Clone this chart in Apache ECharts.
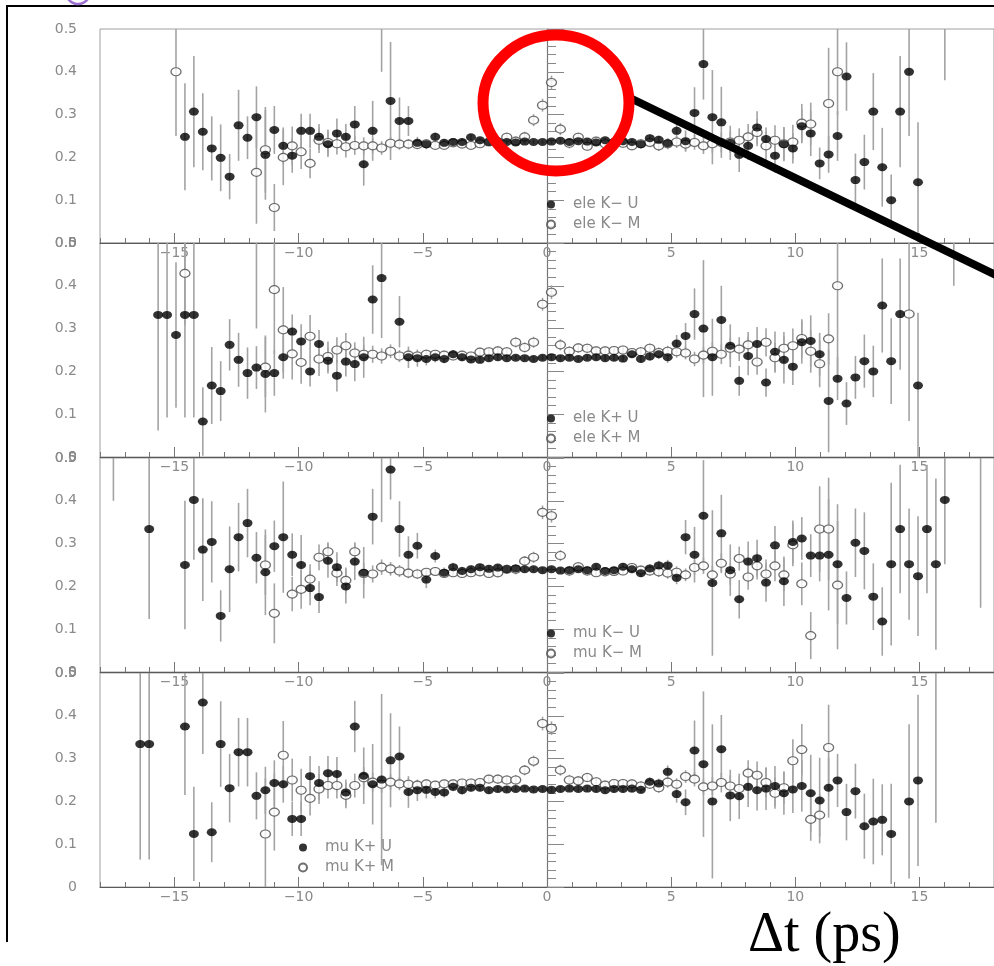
<!DOCTYPE html>
<html><head><meta charset="utf-8">
<script src="https://cdn.jsdelivr.net/npm/echarts@6/dist/echarts.min.js"></script>
<style>html,body{margin:0;padding:0;background:#fff;}#c{width:994px;height:966px;}</style>
</head><body><div id="c"></div>
<script>
// Δt bin centres (ps), value, error  — rows: [dt, value, error]
const xTickValues = [-15, -10, -5, 0, 5, 10, 15];
const yTickValues = [0, 0.1, 0.2, 0.3, 0.4, 0.5];
const seriesNames = ['ele K\u2212 U', 'ele K\u2212 M', 'ele K+ U', 'ele K+ M', 'mu K\u2212 U', 'mu K\u2212 M', 'mu K+ U', 'mu K+ M'];

const eleKmU = [[-14.58,0.248,0.125],[-14.22,0.307,0.13],[-13.86,0.26,0.09],[-13.5,0.221,0.075],[-13.14,0.199,0.078],[-12.78,0.155,0.053],[-12.42,0.275,0.083],[-12.06,0.246,0.05],[-11.7,0.294,0.072],[-11.34,0.206,0.105],[-10.98,0.264,0.056],[-10.62,0.227,0.043],[-10.26,0.204,0.04],[-9.9,0.262,0.04],[-9.54,0.262,0.04],[-9.18,0.248,0.03],[-8.82,0.231,0.03],[-8.46,0.256,0.035],[-8.1,0.248,0.03],[-7.74,0.277,0.043],[-7.38,0.184,0.05],[-7.02,0.262,0.07],[-6.66,0.6,0.2],[-6.3,0.332,0.138],[-5.94,0.285,0.055],[-5.58,0.285,0.035],[-5.22,0.234,0.014],[-4.86,0.231,0.012],[-4.5,0.248,0.01],[-4.14,0.234,0.009],[-3.78,0.236,0.008],[-3.42,0.236,0.008],[-3.06,0.247,0.007],[-2.7,0.24,0.007],[-2.34,0.236,0.006],[-1.98,0.238,0.006],[-1.62,0.236,0.005],[-1.26,0.235,0.005],[-0.9,0.237,0.005],[-0.54,0.236,0.005],[-0.18,0.236,0.005],[0.18,0.237,0.005],[0.54,0.239,0.005],[0.9,0.236,0.005],[1.26,0.238,0.005],[1.62,0.237,0.005],[1.98,0.235,0.006],[2.34,0.24,0.006],[2.7,0.236,0.006],[3.06,0.238,0.007],[3.42,0.236,0.007],[3.78,0.231,0.008],[4.14,0.245,0.009],[4.5,0.241,0.01],[4.86,0.233,0.012],[5.22,0.262,0.018],[5.58,0.238,0.025],[5.94,0.304,0.06],[6.3,0.418,0.083],[6.66,0.294,0.11],[7.02,0.282,0.083],[7.38,0.234,0.04],[7.74,0.206,0.04],[8.1,0.227,0.033],[8.46,0.27,0.038],[8.82,0.243,0.027],[9.18,0.204,0.04],[9.54,0.231,0.04],[9.9,0.221,0.035],[10.26,0.273,0.04],[10.62,0.256,0.053],[10.98,0.186,0.037],[11.34,0.207,0.043],[11.7,0.25,0.058],[12.06,0.389,0.08],[12.42,0.147,0.062],[12.78,0.189,0.064],[13.14,0.307,0.09],[13.5,0.177,0.092],[13.86,0.1,0.06],[14.22,0.307,0.13],[14.58,0.4,0.15],[14.94,0.142,0.14],[16.02,0.65,0.27]];
const eleKmM = [[-14.94,0.4,0.15],[-11.7,0.165,0.12],[-11.34,0.218,0.1],[-10.98,0.083,0.055],[-10.62,0.2,0.065],[-10.26,0.227,0.045],[-9.9,0.213,0.04],[-9.54,0.186,0.035],[-9.18,0.24,0.03],[-8.82,0.235,0.03],[-8.46,0.232,0.025],[-8.1,0.225,0.025],[-7.74,0.228,0.022],[-7.38,0.227,0.02],[-7.02,0.227,0.018],[-6.66,0.222,0.016],[-6.3,0.233,0.015],[-5.94,0.231,0.013],[-5.58,0.231,0.012],[-5.22,0.23,0.011],[-4.86,0.232,0.01],[-4.5,0.228,0.01],[-4.14,0.228,0.009],[-3.78,0.234,0.009],[-3.42,0.231,0.009],[-3.06,0.228,0.009],[-2.7,0.232,0.009],[-2.34,0.236,0.009],[-1.98,0.23,0.01],[-1.62,0.247,0.011],[-1.26,0.238,0.011],[-0.9,0.248,0.012],[-0.54,0.287,0.014],[-0.18,0.322,0.015],[0.18,0.375,0.016],[0.54,0.266,0.014],[0.9,0.233,0.012],[1.26,0.247,0.011],[1.62,0.226,0.01],[1.98,0.238,0.01],[2.34,0.232,0.01],[2.7,0.235,0.01],[3.06,0.233,0.01],[3.42,0.227,0.01],[3.78,0.232,0.011],[4.14,0.235,0.011],[4.5,0.227,0.012],[4.86,0.232,0.013],[5.22,0.236,0.014],[5.58,0.231,0.015],[5.94,0.235,0.017],[6.3,0.227,0.019],[6.66,0.232,0.021],[7.02,0.235,0.023],[7.38,0.236,0.025],[7.74,0.24,0.028],[8.1,0.248,0.03],[8.46,0.258,0.032],[8.82,0.227,0.033],[9.18,0.24,0.035],[9.54,0.232,0.038],[9.9,0.236,0.04],[10.26,0.28,0.045],[10.62,0.278,0.05],[11.34,0.326,0.13],[11.7,0.4,0.1]];
const eleKpU = [[-15.66,0.332,0.27],[-15.3,0.332,0.24],[-14.94,0.285,0.17],[-14.58,0.332,0.24],[-14.22,0.332,0.24],[-13.86,0.083,0.08],[-13.5,0.167,0.09],[-13.14,0.154,0.07],[-12.78,0.262,0.06],[-12.42,0.227,0.063],[-12.06,0.196,0.06],[-11.7,0.209,0.05],[-11.34,0.194,0.09],[-10.98,0.196,0.053],[-10.62,0.233,0.05],[-10.26,0.293,0.04],[-9.9,0.27,0.04],[-9.54,0.2,0.035],[-9.18,0.264,0.033],[-8.82,0.225,0.03],[-8.46,0.19,0.037],[-8.1,0.223,0.035],[-7.74,0.217,0.04],[-7.38,0.233,0.048],[-7.02,0.368,0.08],[-6.66,0.418,0.14],[-5.94,0.316,0.06],[-5.58,0.233,0.025],[-5.22,0.231,0.02],[-4.86,0.229,0.015],[-4.5,0.233,0.012],[-4.14,0.229,0.01],[-3.78,0.24,0.01],[-3.42,0.233,0.009],[-3.06,0.228,0.008],[-2.7,0.227,0.008],[-2.34,0.231,0.007],[-1.98,0.233,0.007],[-1.62,0.231,0.006],[-1.26,0.232,0.006],[-0.9,0.231,0.006],[-0.54,0.229,0.006],[-0.18,0.232,0.006],[0.18,0.233,0.006],[0.54,0.231,0.006],[0.9,0.232,0.006],[1.26,0.229,0.006],[1.62,0.232,0.006],[1.98,0.233,0.007],[2.34,0.231,0.007],[2.7,0.232,0.007],[3.06,0.23,0.008],[3.42,0.24,0.008],[3.78,0.229,0.009],[4.14,0.235,0.01],[4.5,0.24,0.011],[4.86,0.233,0.013],[5.22,0.265,0.02],[5.58,0.283,0.03],[5.94,0.334,0.06],[6.3,0.3,0.16],[6.66,0.233,0.09],[7.02,0.32,0.08],[7.38,0.26,0.05],[7.74,0.178,0.035],[8.1,0.236,0.045],[8.46,0.264,0.04],[8.82,0.174,0.033],[9.18,0.246,0.047],[9.54,0.227,0.055],[9.9,0.211,0.043],[10.26,0.268,0.05],[10.62,0.271,0.06],[10.98,0.24,0.05],[11.34,0.131,0.12],[11.7,0.183,0.05],[12.06,0.125,0.05],[12.42,0.186,0.05],[12.78,0.224,0.062],[13.14,0.2,0.06],[13.5,0.354,0.11],[13.86,0.224,0.1],[14.22,0.334,0.13],[14.94,0.167,0.17],[16.38,0.6,0.2]];
const eleKpM = [[-14.58,0.429,0.12],[-11.7,0.62,0.32],[-11.34,0.21,0.07],[-10.98,0.391,0.15],[-10.62,0.297,0.1],[-10.26,0.241,0.06],[-9.9,0.221,0.05],[-9.54,0.282,0.05],[-9.18,0.229,0.04],[-8.82,0.235,0.035],[-8.46,0.25,0.03],[-8.1,0.26,0.03],[-7.74,0.243,0.025],[-7.38,0.24,0.022],[-7.02,0.24,0.02],[-6.66,0.236,0.018],[-6.3,0.247,0.016],[-5.94,0.236,0.014],[-5.58,0.238,0.013],[-5.22,0.236,0.012],[-4.86,0.24,0.011],[-4.5,0.24,0.01],[-4.14,0.238,0.01],[-3.78,0.236,0.01],[-3.42,0.238,0.01],[-3.06,0.236,0.01],[-2.7,0.245,0.01],[-2.34,0.246,0.01],[-1.98,0.248,0.011],[-1.62,0.246,0.011],[-1.26,0.268,0.012],[-0.9,0.256,0.012],[-0.54,0.268,0.013],[-0.18,0.357,0.015],[0.18,0.385,0.016],[0.54,0.262,0.013],[0.9,0.247,0.012],[1.26,0.255,0.011],[1.62,0.254,0.011],[1.98,0.248,0.01],[2.34,0.248,0.01],[2.7,0.249,0.01],[3.06,0.25,0.01],[3.42,0.244,0.01],[3.78,0.246,0.011],[4.14,0.254,0.011],[4.5,0.244,0.012],[4.86,0.247,0.013],[5.22,0.246,0.014],[5.58,0.243,0.015],[5.94,0.229,0.017],[6.3,0.238,0.019],[6.66,0.247,0.021],[7.02,0.24,0.023],[7.38,0.254,0.025],[7.74,0.252,0.028],[8.1,0.262,0.03],[8.46,0.222,0.03],[8.82,0.268,0.033],[9.18,0.232,0.035],[9.54,0.254,0.038],[9.9,0.26,0.04],[10.26,0.277,0.045],[10.62,0.247,0.05],[10.98,0.218,0.055],[11.34,0.276,0.06],[11.7,0.4,0.22],[14.58,0.334,0.25]];
const muKmU = [[-17.46,0.6,0.2],[-16.02,0.334,0.21],[-14.58,0.25,0.15],[-14.22,0.402,0.14],[-13.86,0.286,0.12],[-13.5,0.304,0.095],[-13.14,0.131,0.06],[-12.78,0.24,0.1],[-12.42,0.315,0.08],[-12.06,0.348,0.08],[-11.7,0.267,0.06],[-11.34,0.233,0.1],[-10.98,0.294,0.06],[-10.62,0.315,0.13],[-10.26,0.274,0.05],[-9.9,0.25,0.07],[-9.54,0.196,0.04],[-9.18,0.175,0.037],[-8.82,0.26,0.04],[-8.46,0.245,0.035],[-8.1,0.2,0.04],[-7.74,0.258,0.043],[-7.38,0.232,0.06],[-7.02,0.363,0.065],[-6.66,0.55,0.2],[-6.3,0.473,0.07],[-5.94,0.334,0.065],[-5.58,0.274,0.043],[-5.22,0.295,0.03],[-4.86,0.216,0.02],[-4.5,0.271,0.015],[-4.14,0.232,0.012],[-3.78,0.245,0.01],[-3.42,0.236,0.01],[-3.06,0.24,0.009],[-2.7,0.245,0.008],[-2.34,0.241,0.008],[-1.98,0.244,0.007],[-1.62,0.24,0.007],[-1.26,0.242,0.006],[-0.9,0.24,0.006],[-0.54,0.24,0.006],[-0.18,0.238,0.006],[0.18,0.24,0.006],[0.54,0.237,0.006],[0.9,0.238,0.006],[1.26,0.24,0.006],[1.62,0.238,0.007],[1.98,0.246,0.007],[2.34,0.236,0.007],[2.7,0.238,0.008],[3.06,0.246,0.008],[3.42,0.24,0.009],[3.78,0.231,0.009],[4.14,0.242,0.01],[4.5,0.249,0.011],[4.86,0.249,0.013],[5.22,0.22,0.015],[5.58,0.315,0.04],[5.94,0.274,0.065],[6.3,0.365,0.13],[6.66,0.208,0.17],[7.02,0.324,0.09],[7.38,0.238,0.06],[7.74,0.17,0.045],[8.1,0.258,0.047],[8.46,0.266,0.043],[8.82,0.209,0.045],[9.18,0.296,0.045],[9.54,0.212,0.058],[9.9,0.304,0.05],[10.26,0.312,0.05],[10.62,0.272,0.05],[10.98,0.272,0.06],[11.34,0.274,0.13],[11.7,0.252,0.14],[12.06,0.173,0.062],[12.42,0.302,0.08],[12.78,0.283,0.09],[13.14,0.176,0.078],[13.5,0.118,0.08],[13.86,0.252,0.19],[14.22,0.334,0.15],[14.58,0.252,0.13],[14.94,0.224,0.14],[15.3,0.334,0.15],[15.66,0.252,0.2],[16.02,0.402,0.15],[17.46,0.6,0.45]];
const muKmM = [[-11.34,0.25,0.07],[-10.98,0.137,0.07],[-10.26,0.182,0.04],[-9.9,0.193,0.045],[-9.54,0.217,0.035],[-9.18,0.268,0.03],[-8.82,0.281,0.022],[-8.46,0.231,0.03],[-8.1,0.214,0.03],[-7.74,0.281,0.022],[-7.38,0.23,0.025],[-7.02,0.229,0.02],[-6.66,0.245,0.018],[-6.3,0.241,0.016],[-5.94,0.236,0.014],[-5.58,0.231,0.012],[-5.22,0.229,0.012],[-4.86,0.233,0.01],[-4.5,0.235,0.01],[-4.14,0.23,0.01],[-3.78,0.232,0.01],[-3.42,0.23,0.01],[-3.06,0.232,0.01],[-2.7,0.234,0.01],[-2.34,0.23,0.01],[-1.98,0.232,0.011],[-1.62,0.24,0.011],[-1.26,0.24,0.012],[-0.9,0.259,0.012],[-0.54,0.268,0.013],[-0.18,0.373,0.016],[0.18,0.365,0.016],[0.54,0.272,0.013],[0.9,0.236,0.012],[1.26,0.246,0.011],[1.62,0.236,0.011],[1.98,0.232,0.01],[2.34,0.234,0.01],[2.7,0.235,0.01],[3.06,0.236,0.01],[3.42,0.244,0.01],[3.78,0.238,0.011],[4.14,0.236,0.011],[4.5,0.234,0.012],[4.86,0.231,0.013],[5.22,0.233,0.014],[5.58,0.227,0.015],[5.94,0.244,0.017],[6.3,0.248,0.019],[6.66,0.227,0.021],[7.02,0.254,0.023],[7.38,0.229,0.025],[7.74,0.265,0.028],[8.1,0.222,0.03],[8.46,0.248,0.032],[8.82,0.229,0.034],[9.18,0.248,0.036],[9.54,0.227,0.038],[9.9,0.297,0.05],[10.26,0.206,0.05],[10.62,0.085,0.055],[10.98,0.334,0.1],[11.34,0.334,0.12],[11.7,0.203,0.15]];
const muKpU = [[-16.38,0.334,0.27],[-16.02,0.334,0.27],[-14.58,0.375,0.16],[-14.22,0.124,0.11],[-13.86,0.431,0.12],[-13.5,0.128,0.07],[-13.14,0.334,0.1],[-12.78,0.231,0.08],[-12.42,0.315,0.08],[-12.06,0.315,0.08],[-11.7,0.213,0.055],[-11.34,0.226,0.055],[-10.98,0.243,0.053],[-10.62,0.24,0.043],[-10.26,0.159,0.04],[-9.9,0.159,0.04],[-9.54,0.259,0.047],[-9.18,0.243,0.04],[-8.82,0.266,0.04],[-8.46,0.264,0.04],[-8.1,0.221,0.03],[-7.74,0.375,0.06],[-7.38,0.26,0.066],[-7.02,0.24,0.094],[-6.66,0.251,0.2],[-6.3,0.296,0.11],[-5.94,0.305,0.07],[-5.58,0.222,0.037],[-5.22,0.226,0.025],[-4.86,0.227,0.02],[-4.5,0.222,0.015],[-4.14,0.221,0.012],[-3.78,0.234,0.01],[-3.42,0.226,0.01],[-3.06,0.232,0.009],[-2.7,0.232,0.008],[-2.34,0.226,0.008],[-1.98,0.229,0.007],[-1.62,0.228,0.007],[-1.26,0.229,0.006],[-0.9,0.23,0.006],[-0.54,0.228,0.006],[-0.18,0.229,0.006],[0.18,0.227,0.006],[0.54,0.229,0.006],[0.9,0.23,0.006],[1.26,0.229,0.006],[1.62,0.23,0.007],[1.98,0.229,0.007],[2.34,0.226,0.007],[2.7,0.229,0.008],[3.06,0.229,0.008],[3.42,0.23,0.009],[3.78,0.227,0.009],[4.14,0.246,0.01],[4.5,0.242,0.011],[4.86,0.269,0.015],[5.22,0.217,0.02],[5.58,0.198,0.03],[5.94,0.319,0.07],[6.3,0.287,0.17],[6.66,0.2,0.18],[7.02,0.322,0.08],[7.38,0.214,0.06],[7.74,0.212,0.053],[8.1,0.234,0.047],[8.46,0.226,0.047],[8.82,0.23,0.05],[9.18,0.236,0.047],[9.54,0.219,0.05],[9.9,0.228,0.055],[10.26,0.236,0.06],[10.62,0.219,0.09],[10.98,0.202,0.1],[11.34,0.232,0.07],[11.7,0.249,0.062],[12.06,0.175,0.066],[12.42,0.224,0.064],[12.78,0.142,0.076],[13.14,0.153,0.1],[13.5,0.157,0.083],[13.86,0.124,0.117],[14.58,0.2,0.18],[14.94,0.249,0.2],[15.66,0.55,0.4]];
const muKpM = [[-11.34,0.124,0.13],[-10.98,0.175,0.09],[-10.62,0.308,0.08],[-10.26,0.25,0.05],[-9.9,0.226,0.05],[-9.54,0.207,0.04],[-9.18,0.229,0.035],[-8.82,0.237,0.03],[-8.46,0.237,0.03],[-8.1,0.214,0.03],[-7.74,0.237,0.028],[-7.38,0.255,0.025],[-7.02,0.245,0.022],[-6.66,0.24,0.02],[-6.3,0.245,0.018],[-5.94,0.241,0.015],[-5.58,0.24,0.013],[-5.22,0.238,0.012],[-4.86,0.241,0.011],[-4.5,0.238,0.01],[-4.14,0.241,0.01],[-3.78,0.241,0.01],[-3.42,0.243,0.01],[-3.06,0.243,0.01],[-2.7,0.244,0.01],[-2.34,0.252,0.01],[-1.98,0.252,0.011],[-1.62,0.25,0.011],[-1.26,0.25,0.012],[-0.9,0.273,0.012],[-0.54,0.294,0.013],[-0.18,0.382,0.016],[0.18,0.371,0.016],[0.54,0.273,0.013],[0.9,0.25,0.012],[1.26,0.248,0.011],[1.62,0.256,0.011],[1.98,0.246,0.01],[2.34,0.238,0.01],[2.7,0.242,0.01],[3.06,0.242,0.01],[3.42,0.241,0.01],[3.78,0.236,0.011],[4.14,0.24,0.011],[4.5,0.232,0.012],[4.86,0.245,0.013],[5.22,0.24,0.014],[5.58,0.258,0.015],[5.94,0.252,0.017],[6.3,0.234,0.019],[6.66,0.236,0.021],[7.02,0.244,0.023],[7.38,0.236,0.025],[7.74,0.23,0.028],[8.1,0.266,0.03],[8.46,0.261,0.032],[8.82,0.244,0.034],[9.18,0.219,0.036],[9.54,0.232,0.038],[9.9,0.295,0.05],[10.26,0.321,0.06],[10.62,0.158,0.05],[10.98,0.168,0.05],[11.34,0.326,0.1]];

const panels = [
  { u: eleKmU, m: eleKmM, uName: seriesNames[0], mName: seriesNames[1] },
  { u: eleKpU, m: eleKpM, uName: seriesNames[2], mName: seriesNames[3] },
  { u: muKmU,  m: muKmM,  uName: seriesNames[4], mName: seriesNames[5] },
  { u: muKpU,  m: muKpM,  uName: seriesNames[6], mName: seriesNames[7] }
];

// layout
const gridTops = [29, 243, 458, 673];
const legendPos = [[541, 192], [541, 406], [541, 621], [293, 835]];
const GREY = '#8a8a8a';
const FONT = 'DejaVu Sans';
const XMIN = -18, XMAX = 18;
const YMIN = yTickValues[0], YMAX = yTickValues[yTickValues.length - 1];

const grid = [], xAxis = [], yAxis = [], series = [], legend = [];

function errRender(params, api) {
  const x = api.value(0), y = api.value(1), e = api.value(2);
  const p1 = api.coord([x, y - e]);
  const p2 = api.coord([x, y + e]);
  return { type: 'line', shape: { x1: p1[0], y1: p1[1], x2: p2[0], y2: p2[1] },
           style: { stroke: '#a3a3a3', lineWidth: 1.6 } };
}
const fmtY = v => String(+(+v).toFixed(1));
// y label at the shared edge between two stacked panels, drawn at the axis position
function edgeLabelRender(params, api) {
  const p = api.coord([api.value(0), api.value(1)]);
  return { type: 'text', x: p[0] - 23, y: p[1],
           style: { text: fmtY(api.value(1)), align: 'right', verticalAlign: 'middle',
                    fill: GREY, font: '14px "' + FONT + '"' } };
}
const last = panels.length - 1;

panels.forEach((p, g) => {
  grid.push({ left: 100, top: gridTops[g], width: 895, height: 214, show: true,
              borderColor: '#a0a0a0', borderWidth: 1, backgroundColor: 'transparent' });
  xAxis.push({ type: 'value', gridIndex: g, position: 'bottom', min: XMIN, max: XMAX, interval: 1,
    axisLine: { show: true, lineStyle: { color: '#5a5a5a', width: 1.2 } },
    axisTick: { show: true, inside: true, length: 5, lineStyle: { color: '#777' } },
    axisLabel: { show: false }, splitLine: { show: false } });
  xAxis.push({ type: 'value', gridIndex: g, position: 'bottom', min: XMIN, max: XMAX,
    axisLine: { show: false },
    axisTick: { show: true, inside: true, length: 10, customValues: xTickValues, lineStyle: { color: '#777' } },
    axisLabel: { show: true, customValues: xTickValues, margin: 3, color: GREY, fontFamily: FONT, fontSize: 14,
                 formatter: v => (v < 0 ? '\u2212' + Math.abs(v) : String(v)) },
    splitLine: { show: false } });
  yAxis.push({ type: 'value', gridIndex: g, position: 'left', min: YMIN, max: YMAX, interval: 0.1,
    axisLine: { show: true, lineStyle: { color: '#777', width: 1.2 } },
    axisTick: { show: true, inside: true, length: 17, lineStyle: { color: '#888' } },
    minorTick: { show: true, splitNumber: 5, length: 9, lineStyle: { color: '#888' } },
    axisLabel: { margin: 23, color: GREY, fontFamily: FONT, fontSize: 14, formatter: fmtY },
    splitLine: { show: false }, minorSplitLine: { show: false } });

  series.push({ type: 'custom', name: p.mName + ' err', xAxisIndex: 2 * g, yAxisIndex: g, clip: true,
    renderItem: errRender, data: p.m, encode: { x: 0, y: 1 }, z: 1, silent: true });
  series.push({ type: 'custom', name: p.uName + ' err', xAxisIndex: 2 * g, yAxisIndex: g, clip: true,
    renderItem: errRender, data: p.u, encode: { x: 0, y: 1 }, z: 1, silent: true });
  series.push({ type: 'scatter', name: p.mName, xAxisIndex: 2 * g, yAxisIndex: g, clip: true,
    data: p.m, encode: { x: 0, y: 1 }, symbol: 'circle', symbolSize: [10, 8], z: 2,
    itemStyle: { color: '#fff', borderColor: '#4a4a4a', borderWidth: 1.2 } });
  series.push({ type: 'scatter', name: p.uName, xAxisIndex: 2 * g, yAxisIndex: g, clip: true,
    data: p.u, encode: { x: 0, y: 1 }, symbol: 'circle', symbolSize: [10, 8], z: 3,
    itemStyle: { color: '#000' } });

  // top-edge label of the lower panels (the default axis hides it where it meets the panel above)
  if (g > 0) {
    series.push({ type: 'custom', name: 'edge label ' + g, xAxisIndex: 2 * g, yAxisIndex: g, clip: false,
      renderItem: edgeLabelRender, data: [[XMIN, YMAX]], encode: { x: 0, y: 1 }, z: 4, silent: true });
  }
  if (g < last) {
    series.push({ type: 'custom', name: 'edge zero ' + g, xAxisIndex: 2 * g, yAxisIndex: g, clip: false,
      renderItem: edgeLabelRender, data: [[XMIN, YMIN]], encode: { x: 0, y: 1 }, z: 4, silent: true });
  }

  legend.push({ left: legendPos[g][0], top: legendPos[g][1], orient: 'vertical', itemGap: 5,
    itemWidth: 10, itemHeight: 8, selectedMode: false, data: [p.uName, p.mName],
    textStyle: { color: GREY, fontFamily: FONT, fontSize: 15, padding: [0, 0, 0, 12] } });
});

const chart = echarts.init(document.getElementById('c'), null, { renderer: 'canvas' });
chart.setOption({
  animation: false, backgroundColor: '#fff', grid, xAxis, yAxis, series, legend,
  graphic: [
    { type: 'polyline', z: 100, shape: { points: [[7, 942], [7, 6], [994, 6]] },
      style: { stroke: '#000', lineWidth: 2, fill: null } },
    { type: 'arc', z: 100, shape: { cx: 78, cy: -8, r: 12, startAngle: 0.3, endAngle: Math.PI - 0.3 },
      style: { stroke: '#9b6fd1', lineWidth: 2.5, fill: null } },
    { type: 'line', z: 101, shape: { x1: 628, y1: 97, x2: 1000, y2: 277 },
      style: { stroke: '#000', lineWidth: 8 } },
    { type: 'ellipse', z: 102, shape: { cx: 556, cy: 103, rx: 73, ry: 68 },
      style: { stroke: '#ff0000', lineWidth: 11, fill: null } },
    { type: 'text', z: 103, left: 748, top: 908,
      style: { text: '\u0394t (ps)', font: '56px "Liberation Serif", "DejaVu Serif", serif', fill: '#000' } }
  ]
});
</script>
</body></html>
